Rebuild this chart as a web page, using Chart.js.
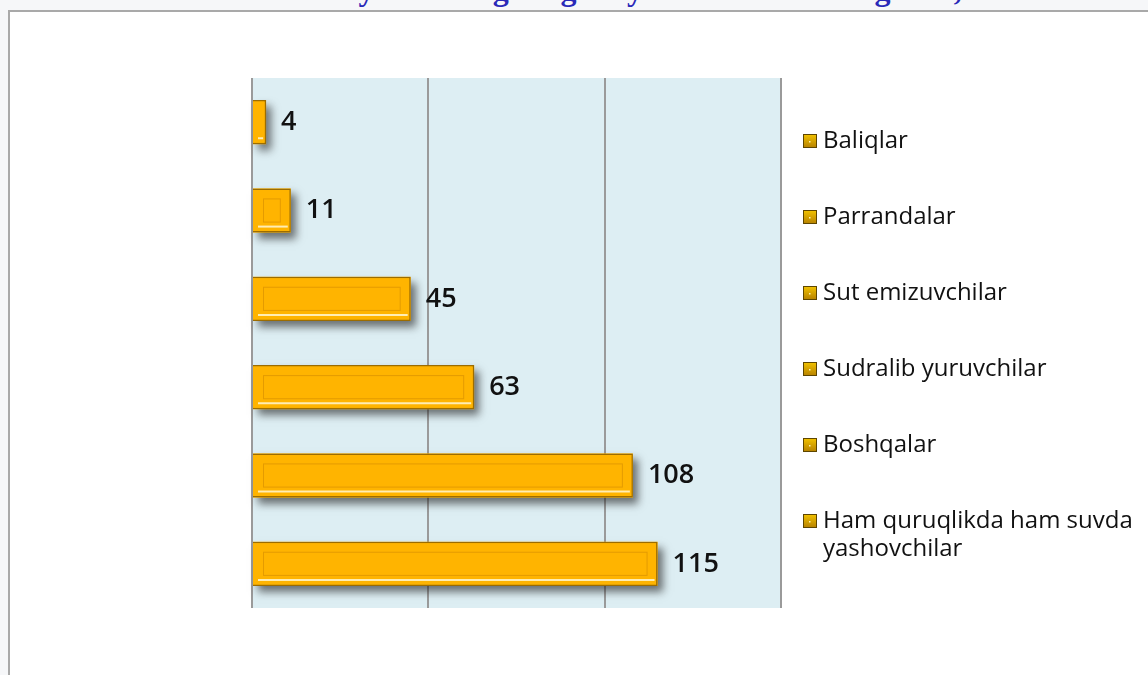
<!DOCTYPE html>
<html>
<head>
<meta charset="utf-8">
<script src="https://cdn.jsdelivr.net/npm/chart.js@4.4.1/dist/chart.umd.min.js"></script>
<style>
    body { margin: 0; background: #f6f7f9; overflow: hidden; }
    #title { position: absolute; left: 0; top: 0; width: 1148px; height: 10px; overflow: hidden; }
    #title span { position: absolute; left: 0; width: 1314px; top: -29px; line-height: 32px; text-align: center;
        font: bold 32px "Liberation Serif", serif; color: #2a2ab8; white-space: nowrap; }
    #frame { position: absolute; left: 8px; top: 10px; width: 1200px; height: 700px; background: #fff;
        border-left: 2px solid #a9a9a9; border-top: 2px solid #a9a9a9; }
    #myChart { position: absolute; left: 0; top: 0; }
</style>
</head>
<body>
<div id="title"><span id="titleText"></span></div>
<div id="frame"></div>
<canvas id="myChart" width="1148" height="675"></canvas>
<script>
var chartTitle = "Hayvonot bog'idagi hayvonlar turlarining soni, ta";
var seriesNames = ['Baliqlar', 'Parrandalar', 'Sut emizuvchilar', 'Sudralib yuruvchilar', 'Boshqalar', 'Ham quruqlikda ham suvda yashovchilar'];
var seriesValues = [4, 11, 45, 63, 108, 115];
var categories = [''];
var xMin = 0;
var xMax = 150;
var xStep = 50;

window.onload = function () {

    document.getElementById('titleText').textContent = chartTitle;

    var ctx = document.getElementById('myChart').getContext('2d');

    function barBox(bar) {
        var p = bar.getProps(['x', 'y', 'base', 'height'], true);
        return {
            left: Math.min(p.base, p.x),
            right: Math.max(p.base, p.x),
            top: p.y - p.height / 2,
            bottom: p.y + p.height / 2,
            y: p.y,
            h: p.height
        };
    }

    // light blue plot area
    var plotBg = {
        id: 'plotBg',
        beforeDraw: function (chart) {
            var a = chart.chartArea;
            var c = chart.ctx;
            c.save();
            c.fillStyle = '#ddeef3';
            c.fillRect(a.left, a.top, a.right - a.left, a.bottom - a.top);
            c.restore();
        }
    };

    // shadow under bars, inner frame + highlight, value labels
    var barDeco = {
        id: 'barDeco',
        beforeDatasetsDraw: function (chart) {
            var c = chart.ctx;
            c.save();
            c.shadowColor = 'rgba(30, 30, 30, 0.6)';
            c.shadowBlur = 8;
            c.shadowOffsetX = 5;
            c.shadowOffsetY = 6;
            c.fillStyle = '#ffb400';
            chart.data.datasets.forEach(function (ds, i) {
                chart.getDatasetMeta(i).data.forEach(function (bar) {
                    var b = barBox(bar);
                    c.fillRect(b.left, b.top, b.right - b.left, b.h);
                });
            });
            c.restore();
        },
        afterDatasetsDraw: function (chart) {
            var c = chart.ctx;
            c.save();
            chart.data.datasets.forEach(function (ds, i) {
                chart.getDatasetMeta(i).data.forEach(function (bar, j) {
                    var b = barBox(bar);

                    if (b.right - b.left > 24) {
                        c.strokeStyle = 'rgba(205, 135, 0, 0.55)';
                        c.lineWidth = 1;
                        c.strokeRect(b.left + 10.5, b.top + 10.5, b.right - b.left - 21, b.h - 21);
                    }
                    if (b.right - b.left > 8) {
                        c.strokeStyle = 'rgba(255, 240, 190, 0.95)';
                        c.lineWidth = 2;
                        c.beginPath();
                        c.moveTo(b.left + 5, b.bottom - 6);
                        c.lineTo(b.right - 3, b.bottom - 6);
                        c.stroke();
                    }

                    c.fillStyle = '#111';
                    c.font = '600 27px "Open Sans"';
                    c.textBaseline = 'middle';
                    c.textAlign = 'left';
                    c.fillText(ds.data[j], b.right + 15, b.y);
                });
            });
            c.restore();
        }
    };

    // legend on the right
    var sideLegend = {
        id: 'sideLegend',
        afterDraw: function (chart) {
            var c = chart.ctx;
            var a = chart.chartArea;
            var x = a.right + 22;
            var y = a.top + 63;
            c.save();
            c.font = '24px "Open Sans"';
            c.textBaseline = 'middle';
            c.textAlign = 'left';
            chart.data.datasets.forEach(function (ds) {
                var g = c.createLinearGradient(x, y - 7, x, y + 7);
                g.addColorStop(0, '#f4c400');
                g.addColorStop(1, '#b58000');
                c.fillStyle = g;
                c.fillRect(x, y - 7, 14, 14);
                c.strokeStyle = '#5e4600';
                c.lineWidth = 1;
                c.strokeRect(x + 0.5, y - 6.5, 13, 13);
                c.fillStyle = '#fff3b0';
                c.fillRect(x + 6, y, 1.5, 1.5);

                // wrap long names
                var words = ds.label.split(' ');
                var lines = [];
                var line = '';
                words.forEach(function (w) {
                    var test = line ? line + ' ' + w : w;
                    if (line && c.measureText(test).width > 1145 - (x + 20)) {
                        lines.push(line);
                        line = w;
                    } else {
                        line = test;
                    }
                });
                lines.push(line);

                c.fillStyle = '#111';
                lines.forEach(function (l, k) {
                    c.fillText(l, x + 20, y + k * 28);
                });
                y += 76;
            });
            c.restore();
        }
    };

    var datasets = seriesNames.map(function (name, i) {
        return {
            label: name,
            data: [seriesValues[i]],
            backgroundColor: '#ffb400',
            borderColor: '#9c6c00',
            borderWidth: 1.5,
            borderSkipped: 'start'
        };
    });

    var myChart = new Chart(ctx, {
        type: 'bar',
        data: {
            labels: categories,
            datasets: datasets
        },
        options: {
            indexAxis: 'y',
            responsive: false,
            animation: false,
            devicePixelRatio: 1,
            categoryPercentage: 1.0,
            barPercentage: 0.5,
            layout: {
                padding: { left: 252, right: 367, top: 78, bottom: 67 }
            },
            plugins: {
                legend: { display: false },
                title: { display: false },
                tooltip: { enabled: false }
            },
            scales: {
                x: {
                    min: xMin,
                    max: xMax,
                    ticks: { stepSize: xStep, display: false },
                    grid: { color: '#9a9a9a', lineWidth: 2, drawTicks: false },
                    border: { display: false }
                },
                y: {
                    display: false
                }
            }
        },
        plugins: [plotBg, barDeco, sideLegend]
    });
}
</script>
</body>
</html>
